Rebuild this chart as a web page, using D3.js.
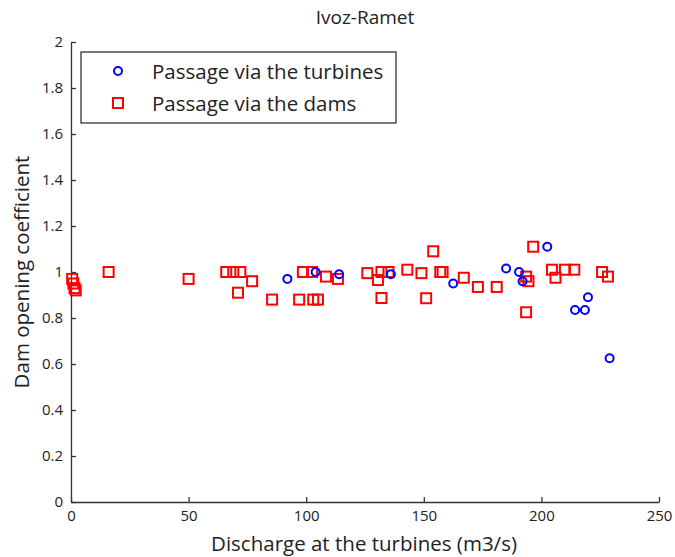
<!DOCTYPE html>
<html>
<head>
<meta charset="utf-8">
<script src="https://cdn.jsdelivr.net/npm/d3@7"></script>
<style>
  body { margin: 0; background: #fff; }
  text { font-family: 'Open Sans', sans-serif; fill: #222; }
  .tick text { font-size: 15px; }
</style>
</head>
<body>
<svg id="chart" width="675" height="557"></svg>
<script>
// turbine passages (circles)
let turbX = [92, 104, 114, 136, 162.5, 185, 190.5, 192, 202.5, 214.3, 218.5, 219.8, 229]
let turbY = [0.97, 1.0, 0.99, 0.99, 0.95, 1.015, 1.0, 0.96, 1.11, 0.835, 0.835, 0.89, 0.625]
// dam passages (squares)
let damX = [0.5, 1, 1.5, 2, 16, 50, 66, 69, 72, 71, 77, 85.5, 98.6, 102.5, 97, 103, 105,
            108.4, 113.5, 126, 130.5, 132, 135, 132, 143, 149, 154, 151, 157, 158, 167,
            173, 181, 193.5, 194.5, 196.5, 193.5, 204.5, 206, 210, 214, 225.8, 228.3]
let damY = [0.97, 0.95, 0.93, 0.92, 1.0, 0.97, 1.0, 1.0, 1.0, 0.91, 0.96, 0.88, 1.0, 1.0, 0.88, 0.88, 0.88,
            0.98, 0.97, 0.995, 0.965, 1.0, 1.0, 0.887, 1.01, 0.995, 1.09, 0.886, 1.0, 1.0, 0.975,
            0.935, 0.935, 0.98, 0.96, 1.11, 0.825, 1.01, 0.975, 1.01, 1.01, 1.0, 0.98]
let xTicks = [0, 50, 100, 150, 200, 250]
let yTicks = [0, 0.2, 0.4, 0.6, 0.8, 1, 1.2, 1.4, 1.6, 1.8, 2]
let legendLabels = ['Passage via the turbines', 'Passage via the dams']

let svg = d3.select('#chart')
let mLeft = 71, mRight = 659, mTop = 42, mBottom = 502

let xScale = d3.scaleLinear().domain([0, 250]).range([mLeft, mRight])
let yScale = d3.scaleLinear().domain([0, 2]).range([mBottom, mTop])

//axes, ticks inward
let xAxis = d3.axisBottom(xScale).tickValues(xTicks).tickSizeInner(-5).tickSizeOuter(0).tickPadding(8)
let yAxis = d3.axisLeft(yScale).tickValues(yTicks).tickSizeInner(-5).tickSizeOuter(0).tickPadding(8)
    .tickFormat(d3.format('~g'))

let gx = svg.append('g')
    .attr('class', 'axis')
    .attr('transform', `translate(0, ${mBottom})`)
    .call(xAxis)
let gy = svg.append('g')
    .attr('class', 'axis')
    .attr('transform', `translate(${mLeft}, 0)`)
    .call(yAxis)
svg.selectAll('.axis path, .axis line').attr('stroke', '#333').attr('stroke-width', 1.3)
gx.selectAll('text').attr('fill', '#222')
gy.selectAll('text').attr('fill', '#222')

//markers
svg.selectAll('.dam')
    .data(damX)
    .enter()
    .append('rect')
    .attr('class', 'dam')
    .attr('x', (d, i) => xScale(d) - 5)
    .attr('y', (d, i) => yScale(damY[i]) - 5)
    .attr('width', 10)
    .attr('height', 10)
    .style('fill', 'none')
    .style('stroke', '#ff0000')
    .style('stroke-width', 2)

svg.selectAll('.turb')
    .data(turbX)
    .enter()
    .append('circle')
    .attr('class', 'turb')
    .attr('cx', (d, i) => xScale(d))
    .attr('cy', (d, i) => yScale(turbY[i]))
    .attr('r', 4)
    .style('fill', 'none')
    .style('stroke', '#0000ff')
    .style('stroke-width', 2)

//title and labels
svg.append('text')
    .attr('x', 365)
    .attr('y', 24)
    .attr('text-anchor', 'middle')
    .style('font-size', '19px')
    .text('Ivoz-Ramet')
svg.append('text')
    .attr('x', 364)
    .attr('y', 551)
    .attr('text-anchor', 'middle')
    .style('font-size', '20.5px')
    .text('Discharge at the turbines (m3/s)')
svg.append('text')
    .attr('transform', `translate(29, ${(mTop + mBottom) / 2}) rotate(-90)`)
    .attr('text-anchor', 'middle')
    .style('font-size', '20.5px')
    .text('Dam opening coefficient')

//legend
svg.append('rect')
    .attr('x', 81)
    .attr('y', 52)
    .attr('width', 315)
    .attr('height', 71)
    .style('fill', '#fff')
    .style('stroke', '#222')
    .style('stroke-width', 1.2)
svg.append('circle')
    .attr('cx', 118)
    .attr('cy', 71)
    .attr('r', 4)
    .style('fill', 'none')
    .style('stroke', '#0000ff')
    .style('stroke-width', 2)
svg.append('rect')
    .attr('x', 113)
    .attr('y', 98)
    .attr('width', 10)
    .attr('height', 10)
    .style('fill', 'none')
    .style('stroke', '#ff0000')
    .style('stroke-width', 2)
svg.selectAll('.legtext')
    .data(legendLabels)
    .enter()
    .append('text')
    .attr('x', 152)
    .attr('y', (d, i) => 71 + i * 32)
    .attr('dominant-baseline', 'central')
    .style('font-size', '20.5px')
    .text(d => d)
</script>
</body>
</html>
